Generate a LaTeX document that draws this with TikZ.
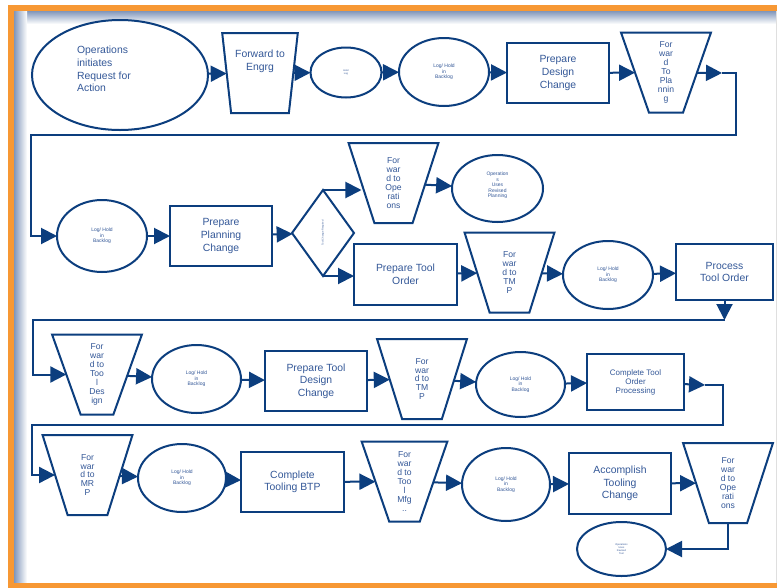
\documentclass[tikz,border=0pt]{standalone}
\usepackage{fontspec}
\setmainfont{Liberation Sans}
\usetikzlibrary{shapes.geometric,arrows.meta}
\definecolor{navy}{RGB}{12,62,126}
\definecolor{inkblue}{RGB}{52,88,152}
\definecolor{frameorange}{RGB}{247,152,52}
\definecolor{frameshadow}{RGB}{128,150,186}
\begin{document}
\begin{tikzpicture}[x=1pt,y=-1pt,
  every node/.style={text=inkblue, align=center, inner sep=0pt, outer sep=0pt},
  shp/.style={draw=navy, line width=2pt, fill=white},
  oval/.style={shp, ellipse, minimum width=90pt, minimum height=68pt},
  box/.style={shp, rectangle, minimum width=102pt, minimum height=60pt},
  trap/.style={shp, trapezium, shape border rotate=180, trapezium stretches=true,
    trapezium angle=77.7, minimum width=90pt, minimum height=80pt},
  choice/.style={shp, diamond, minimum width=62pt, minimum height=86pt},
  flow/.style={draw=navy, line width=2pt, -{Triangle[length=16pt,width=16pt]}},
  bigtxt/.style={font=\fontsize{10.4}{12.6}\selectfont},
  traptxt/.style={font=\fontsize{8.6}{8.9}\selectfont},
  smalltxt/.style={font=\fontsize{5}{5.6}\selectfont},
  tinytxt/.style={font=\fontsize{2.5}{3}\selectfont},
]
\useasboundingbox (0,0) rectangle (777,587);
\fill[white] (0,0) rectangle (777,587);

% frame with soft inner shadow
\shade[top color=frameshadow, bottom color=white] (14,11) rectangle (777,24);
\shade[left color=frameshadow, right color=white] (14,11) rectangle (27,583);
\draw[gray!25, line width=1pt] (776,11) -- (776,583);
\draw[frameorange, line width=6pt] (11,8) rectangle (800,586);

% ---- row 1
\node[oval, minimum width=176pt, minimum height=110pt,
  label={[bigtxt, align=left, xshift=-16pt, yshift=6pt]center:Operations\\initiates\\Request for\\Action}] (E1) at (120,75) {};
\node[trap, minimum width=76pt, trapezium angle=80.4, bigtxt] (T1) at (260,73) {Forward to\\Engrg\\~\\~};
\node[oval, minimum width=71pt, minimum height=50pt, tinytxt] (E2) at (346,72.5) {Hold\\Log};
\node[oval, smalltxt] (E3) at (444,72) {Log/ Hold\\in\\Backlog};
\node[box, bigtxt] (P0) at (558,73) {Prepare\\Design\\Change};
\node[trap, traptxt] (T2) at (666,72.5) {For\\war\\d\\To\\Pla\\nnin\\g};
\coordinate (c1) at (722,73);
\coordinate (k1) at (736,73);
\coordinate (k2) at (736,135);
\coordinate (k3) at (31,135);

% ---- row 2
\node[oval, minimum height=72pt, smalltxt] (E4) at (102,236) {Log/ Hold\\in\\Backlog};
\node[box, bigtxt] (P1) at (221,236) {Prepare\\Planning\\Change};
\node[choice, label={[tinytxt, rotate=90]center:Tool Change Required}] (D) at (323,233) {};
\node[trap, traptxt] (T3) at (393.5,183) {For\\war\\d to\\Ope\\rati\\ons};
\node[oval, minimum width=91pt, minimum height=67pt,
  label={[smalltxt, yshift=3pt]center:Operation\\s\\Uses\\Revised\\Planning}] (E5) at (497.5,188.5) {};
\node[box, minimum width=103pt, minimum height=61pt, bigtxt] (P3) at (405.5,274.5) {Prepare Tool\\Order};
\node[trap, traptxt] (T4) at (509.5,272.5) {For\\war\\d to\\TM\\P};
\node[oval, smalltxt] (E6) at (608,275) {Log/ Hold\\in\\Backlog};
\node[box, minimum width=97pt, minimum height=56pt, bigtxt] (P2) at (724.5,272) {Process\\Tool Order};
\coordinate (c2) at (724.5,320);
\coordinate (k4) at (33,320);

% ---- row 3
\node[trap, traptxt] (T5) at (97,374.5) {For\\war\\d to\\Too\\l\\Des\\ign};
\node[oval, minimum width=89pt, smalltxt] (E7) at (196.5,379) {Log/ Hold\\in\\Backlog};
\node[box, bigtxt] (P4) at (316,381) {Prepare Tool\\Design\\Change};
\node[trap, traptxt] (T6) at (422,379) {For\\war\\d to\\TM\\P};
\node[oval, minimum width=89pt, minimum height=65pt, smalltxt] (E8) at (520.5,384.5) {Log/ Hold\\in\\Backlog};
\node[box, minimum width=97pt, minimum height=56pt, font=\fontsize{8}{9}\selectfont] (R3) at (635.5,382) {Complete Tool\\Order\\Processing};
\coordinate (c3) at (705,385);
\coordinate (k5) at (723,385);
\coordinate (k6) at (723,425);
\coordinate (k7) at (32,425);

% ---- row 4
\node[trap, traptxt] (T7) at (87.5,475) {For\\war\\d to\\MR\\P};
\node[oval, minimum width=88pt, smalltxt] (E9) at (182,478) {Log/ Hold\\in\\Backlog};
\node[box, minimum width=103pt, bigtxt] (P5) at (292.5,482) {Complete\\Tooling BTP};
\node[trap, minimum width=86pt, traptxt] (T8) at (404.5,481.5) {For\\war\\d to\\Too\\l\\Mfg\\..};
\node[oval, minimum width=88pt, minimum height=73pt, smalltxt] (E10) at (506,484.5) {Log/ Hold\\in\\Backlog};
\node[box, minimum height=61pt, bigtxt] (P6) at (620,483.5) {Accomplish\\Tooling\\Change};
\node[trap, traptxt] (T9) at (728,483) {For\\war\\d to\\Ope\\rati\\ons};
\node[oval, minimum width=89pt, minimum height=54pt, tinytxt] (E11) at (621.5,549) {Operations\\Uses\\Revised\\Tool};

% ---- connectors
\draw[flow] (E1) -- (T1);
\draw[flow] (T1) -- (E2);
\draw[flow] (E2) -- (E3);
\draw[flow] (E3) -- (P0);
\draw[flow] (P0) -- (T2);
\draw[flow] (T2) -- (c1);
\draw[flow] (c1) -- (k1) -- (k2) -- (k3) |- (E4);

\draw[flow] (E4) -- (P1);
\draw[flow] (P1) -- (D);
\draw[flow] (D.north) -- (D.north -| T3.180);
\draw[flow] (T3) -- (E5);
\draw[flow] (D.south) -- (D.south -| P3.west);
\draw[flow] (P3) -- (T4);
\draw[flow] (T4) -- (E6);
\draw[flow] (E6) -- (P2);
\draw[flow] (P2) -- (c2);
\draw[flow] (c2) -- (k4) |- (T5);

\draw[flow] (T5) -- (E7);
\draw[flow] (E7) -- (P4);
\draw[flow] (P4) -- (T6);
\draw[flow] (T6) -- (E8);
\draw[flow] (E8) -- (R3);
\draw[flow] (R3) -- (c3);
\draw[flow] (c3) -- (k5) -- (k6) -- (k7) |- (T7);

\draw[flow] (T7) -- (E9);
\draw[flow] (E9) -- (P5);
\draw[flow] (P5) -- (T8);
\draw[flow] (T8) -- (E10);
\draw[flow] (E10) -- (P6);
\draw[flow] (P6) -- (T9);
\draw[flow] (T9) |- (E11);
\end{tikzpicture}
\end{document}
